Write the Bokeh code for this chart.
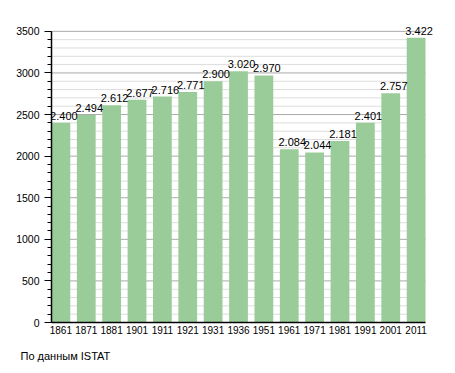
import numpy as np
from bokeh.plotting import figure
from bokeh.models import Range1d, SingleIntervalTicker, FixedTicker, Title, ColumnDataSource
from bokeh.core.properties import value
from bokeh.embed import file_html
from bokeh.resources import INLINE

years = ["1861", "1871", "1881", "1901", "1911", "1921", "1931", "1936",
         "1951", "1961", "1971", "1981", "1991", "2001", "2011"]
population = [2400, 2494, 2612, 2677, 2716, 2771, 2900, 3020,
              2970, 2084, 2044, 2181, 2401, 2757, 3422]
y_max = 3500
major_step = 500
minor_step = 100
source_note = "По данным  ISTAT"

idx = list(range(len(years)))
labels = [f"{v:,}".replace(",", ".") for v in population]
src = ColumnDataSource(dict(x=idx, top=population, lab=labels))

FONT = "Liberation Sans"

# frame extends a bit above the 3500 line and right of the last bar
# so the value labels are not clipped
frame_top_pad = 24      # px between frame top and 3500 line
axis_height_px = 293    # px from 0 to 3500
y_end = y_max * (axis_height_px + frame_top_pad) / axis_height_px

x_lo, x_hi = -0.37, len(years) - 1 + 0.37
plot_w_px = 374
frame_right_pad = 10
x_end = x_hi + (x_hi - x_lo) * frame_right_pad / plot_w_px

p = figure(width=455, height=373, output_backend="svg", toolbar_location=None,
           x_range=Range1d(x_lo, x_end), y_range=Range1d(0, y_end),
           min_border_left=51, min_border_right=30 - frame_right_pad,
           min_border_top=31 - frame_top_pad, min_border_bottom=49)
p.outline_line_color = None
p.background_fill_color = "white"

# horizontal grid lines (limited to the plotting area)
grid_vals = np.arange(0, y_max + 1, minor_step)
minor_vals = [g for g in grid_vals if g % major_step != 0]
major_vals = [g for g in grid_vals if g % major_step == 0 and g > 0]
p.segment(x0=x_lo, x1=x_hi, y0=minor_vals, y1=minor_vals, line_color="#dddddd", line_width=1)
p.segment(x0=x_lo, x1=x_hi, y0=major_vals, y1=major_vals, line_color="#aaaaaa", line_width=1)

p.vbar(x="x", top="top", width=0.74, source=src, color="#99cc99", line_color=None)

p.text(x="x", y="top", text="lab", source=src, text_align="center", text_baseline="bottom",
       x_offset=3, y_offset=-3, text_font=value(FONT), text_font_size="11px", text_color="black")

# y axis
p.yaxis.ticker = SingleIntervalTicker(interval=major_step, num_minor_ticks=major_step // minor_step)
p.yaxis.bounds = (0, y_max)
p.yaxis.axis_line_color = "black"
p.yaxis.axis_line_width = 1.5
p.yaxis.major_tick_out = 7
p.yaxis.major_tick_in = 0
p.yaxis.minor_tick_out = 4
p.yaxis.minor_tick_in = 0
p.yaxis.major_tick_line_color = "black"
p.yaxis.minor_tick_line_color = "black"
p.yaxis.major_label_standoff = 5
p.yaxis.major_label_text_font = FONT
p.yaxis.major_label_text_font_size = "10.5px"
p.yaxis.major_label_text_color = "black"

# x axis
p.xaxis.ticker = FixedTicker(ticks=idx)
p.xaxis.bounds = (x_lo, x_hi)
p.xaxis.major_label_overrides = {i: y for i, y in enumerate(years)}
p.xaxis.axis_line_color = "black"
p.xaxis.axis_line_width = 1.5
p.xaxis.major_tick_out = 0
p.xaxis.major_tick_in = 0
p.xaxis.minor_tick_line_color = None
p.xaxis.major_label_standoff = 3
p.xaxis.major_label_text_font = FONT
p.xaxis.major_label_text_font_size = "10px"
p.xaxis.major_label_text_color = "black"

# grids handled by segments above
p.xgrid.grid_line_color = None
p.ygrid.grid_line_color = None

p.add_layout(Title(text=source_note, align="left", offset=-31, standoff=23,
                   text_font=FONT, text_font_size="11px", text_font_style="normal",
                   text_color="black"), "below")

open("out.html", "w").write(file_html(p, INLINE))
